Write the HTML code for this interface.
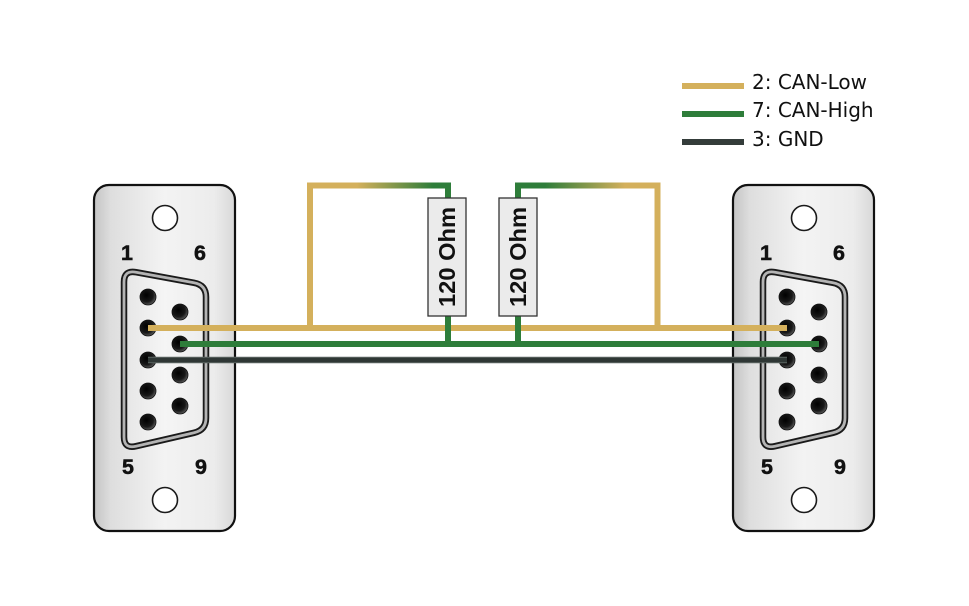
<!DOCTYPE html>
<html>
<head>
<meta charset="utf-8">
<style>
  html,body{margin:0;padding:0;background:#fff;}
  svg{display:block;}
</style>
</head>
<body>
<svg width="969" height="606" viewBox="0 0 969 606" xmlns="http://www.w3.org/2000/svg">
  <defs>
    <linearGradient id="plate" x1="0" y1="0" x2="1" y2="0">
      <stop offset="0" stop-color="#c4c4c4"/>
      <stop offset="0.12" stop-color="#dedede"/>
      <stop offset="0.5" stop-color="#f3f3f3"/>
      <stop offset="0.85" stop-color="#ececec"/>
      <stop offset="1" stop-color="#d8d8d8"/>
    </linearGradient>
    <linearGradient id="shell" x1="0" y1="0" x2="1" y2="0">
      <stop offset="0" stop-color="#e6e6e6"/>
      <stop offset="0.5" stop-color="#f5f5f5"/>
      <stop offset="1" stop-color="#ededed"/>
    </linearGradient>
    <radialGradient id="pin" cx="0.4" cy="0.38" r="0.7">
      <stop offset="0" stop-color="#000"/>
      <stop offset="0.6" stop-color="#181818"/>
      <stop offset="1" stop-color="#6a6a6a"/>
    </radialGradient>
    <linearGradient id="gl" gradientUnits="userSpaceOnUse" x1="357" y1="0" x2="433" y2="0">
      <stop offset="0" stop-color="#d4b05c"/>
      <stop offset="1" stop-color="#2e7d3a"/>
    </linearGradient>
    <linearGradient id="gr" gradientUnits="userSpaceOnUse" x1="545" y1="0" x2="625" y2="0">
      <stop offset="0" stop-color="#2e7d3a"/>
      <stop offset="1" stop-color="#d4b05c"/>
    </linearGradient>
    <g id="conn">
      <rect x="94" y="185" width="141" height="346" rx="15" ry="15" fill="url(#plate)" stroke="#111" stroke-width="2.2"/>
      <circle cx="165" cy="218" r="12.5" fill="#fff" stroke="#1a1a1a" stroke-width="1.6"/>
      <circle cx="165" cy="500" r="12.5" fill="#fff" stroke="#1a1a1a" stroke-width="1.6"/>
      <path d="M124,282 Q124,270 136,272.2 L194,282.8 Q206,285 206,297 L206,418 Q206,430 194,432.8 L136,446.2 Q124,449 124,437 Z"
            fill="url(#shell)" stroke="#1a1a1a" stroke-width="6.5" stroke-linejoin="round"/>
      <path d="M124,282 Q124,270 136,272.2 L194,282.8 Q206,285 206,297 L206,418 Q206,430 194,432.8 L136,446.2 Q124,449 124,437 Z"
            fill="none" stroke="#b4b4b4" stroke-width="2.8" stroke-linejoin="round"/>
      <g fill="url(#pin)" stroke="#111" stroke-width="0.8">
        <circle cx="148" cy="297" r="8"/>
        <circle cx="148" cy="328" r="8"/>
        <circle cx="148" cy="360" r="8"/>
        <circle cx="148" cy="391" r="8"/>
        <circle cx="148" cy="422" r="8"/>
        <circle cx="180" cy="312" r="8"/>
        <circle cx="180" cy="344" r="8"/>
        <circle cx="180" cy="375" r="8"/>
        <circle cx="180" cy="406" r="8"/>
      </g>
      <g font-family="'Liberation Sans', Arial, sans-serif" font-weight="bold" font-size="21.5" fill="#111" stroke="#111" stroke-width="0.5" text-anchor="middle">
        <text x="127" y="260">1</text>
        <text x="200" y="260">6</text>
        <text x="128" y="474">5</text>
        <text x="201" y="474">9</text>
      </g>
    </g>
  </defs>

  <!-- Legend -->
  <g stroke-width="6">
    <line x1="682" y1="86" x2="744" y2="86" stroke="#d4b05c"/>
    <line x1="682" y1="114" x2="744" y2="114" stroke="#2e7d3a"/>
    <line x1="682" y1="142" x2="744" y2="142" stroke="#343c3a"/>
  </g>
  <g font-family="'DejaVu Sans', 'Liberation Sans', sans-serif" font-size="20" fill="#111">
    <text x="752" y="89">2: CAN-Low</text>
    <text x="752" y="117">7: CAN-High</text>
    <text x="752" y="146">3: GND</text>
  </g>

  <!-- Connectors -->
  <use href="#conn"/>
  <use href="#conn" transform="translate(639,0)"/>

  <!-- Termination loops -->
  <path d="M310,328 L310,185.5 L448,185.5 L448,198" fill="none" stroke="url(#gl)" stroke-width="6" stroke-linejoin="miter"/>
  <path d="M518,198 L518,185.5 L657.5,185.5 L657.5,328" fill="none" stroke="url(#gr)" stroke-width="6" stroke-linejoin="miter"/>

  <!-- Main wires -->
  <line x1="148" y1="328" x2="787" y2="328" stroke="#d4b05c" stroke-width="6"/>
  <line x1="180" y1="344" x2="819" y2="344" stroke="#2e7d3a" stroke-width="6"/>
  <line x1="148" y1="360" x2="787" y2="360" stroke="#5d6663" stroke-width="6.5"/>
  <line x1="148" y1="360" x2="787" y2="360" stroke="#2f3735" stroke-width="4.5"/>

  <!-- Green drops from resistors -->
  <line x1="448" y1="315" x2="448" y2="346" stroke="#2e7d3a" stroke-width="6"/>
  <line x1="518" y1="315" x2="518" y2="346" stroke="#2e7d3a" stroke-width="6"/>

  <!-- Resistors -->
  <rect x="428" y="198" width="38" height="118" fill="#ebebeb" stroke="#333" stroke-width="1.3"/>
  <rect x="499" y="198" width="38" height="118" fill="#ebebeb" stroke="#333" stroke-width="1.3"/>
  <g font-family="'Liberation Sans', Arial, sans-serif" font-weight="bold" font-size="23" fill="#111" text-anchor="middle">
    <text x="0" y="0" transform="translate(455,257) rotate(-90)" textLength="100" lengthAdjust="spacingAndGlyphs">120 Ohm</text>
    <text x="0" y="0" transform="translate(526,257) rotate(-90)" textLength="100" lengthAdjust="spacingAndGlyphs">120 Ohm</text>
  </g>
</svg>
</body>
</html>
